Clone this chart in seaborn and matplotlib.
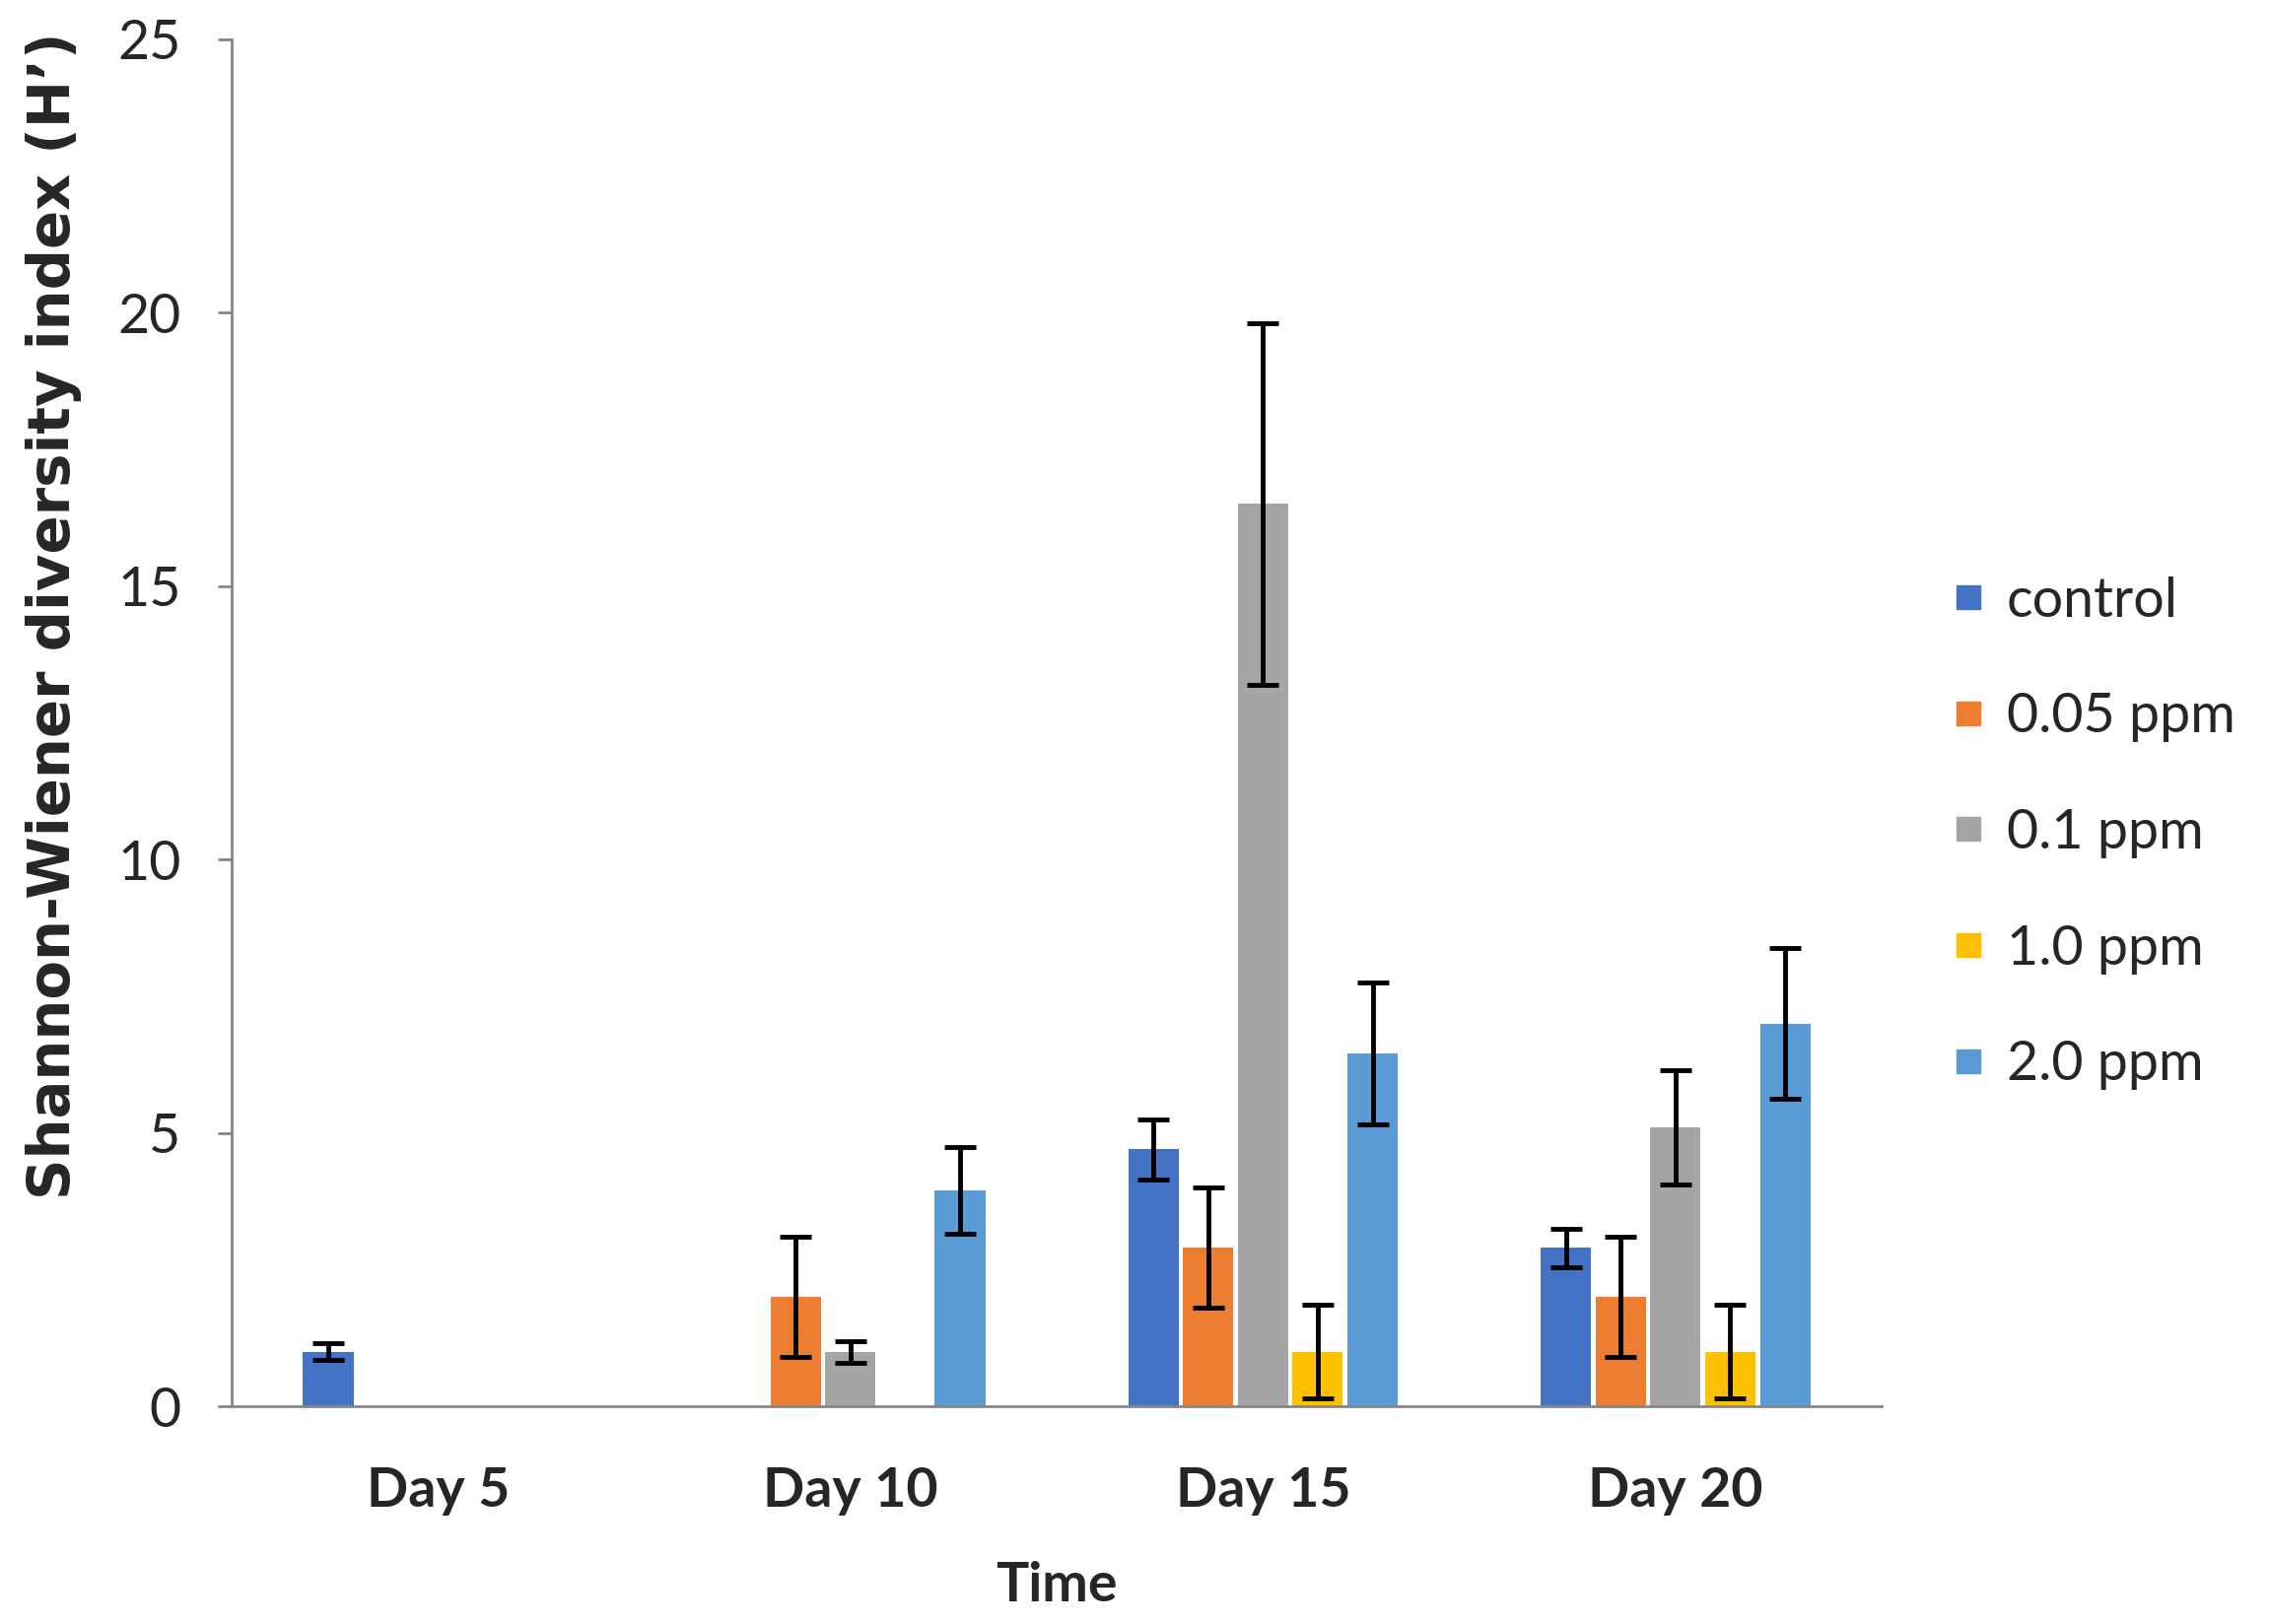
import numpy as np
import pandas as pd
import seaborn as sns
import matplotlib.pyplot as plt
from matplotlib.lines import Line2D
from matplotlib.container import BarContainer

# values (nan = no bar)
days = ["Day 5", "Day 10", "Day 15", "Day 20"]
treatments = ["control", "0.05 ppm", "0.1 ppm", "1.0 ppm", "2.0 ppm"]
colors = ["#4472C4", "#ED7D31", "#A5A5A5", "#FFC000", "#5B9BD5"]

control = [1.0, np.nan, 4.7, 2.9]
ppm_005 = [np.nan, 2.0, 2.9, 2.0]
ppm_01 = [np.nan, 1.0, 16.5, 5.1]
ppm_10 = [np.nan, np.nan, 1.0, 1.0]
ppm_20 = [np.nan, 3.95, 6.45, 7.0]

err_control = [0.15, np.nan, 0.55, 0.35]
err_005 = [np.nan, 1.1, 1.1, 1.1]
err_01 = [np.nan, 0.2, 3.3, 1.05]
err_10 = [np.nan, np.nan, 0.85, 0.85]
err_20 = [np.nan, 0.8, 1.3, 1.38]

values = [control, ppm_005, ppm_01, ppm_10, ppm_20]
errors = [err_control, err_005, err_01, err_10, err_20]

rows = []
for t, vals in zip(treatments, values):
    for d, v in zip(days, vals):
        rows.append({"day": d, "treatment": t, "value": v})
df = pd.DataFrame(rows)

sns.set_style("ticks")
plt.rcParams['font.family'] = ['Lato', 'DejaVu Sans']

fig = plt.figure(figsize=(23.03, 16.48), dpi=100)
ax = fig.add_axes([0.102, 0.134, 0.727, 0.842])

sns.barplot(data=df, x="day", y="value", hue="treatment", order=days,
            hue_order=treatments, palette=colors, saturation=1,
            width=0.664, gap=0.08, errorbar=None, linewidth=0,
            legend=False, ax=ax)

# error bars on top of each drawn bar
bar_conts = [c for c in ax.containers if isinstance(c, BarContainer)]
for i, cont in enumerate(bar_conts):
    for patch in cont.patches:
        if patch is None:
            continue
        h = patch.get_height()
        if np.isnan(h):
            continue
        xc = patch.get_x() + patch.get_width() / 2
        e = errors[i][int(round(xc))]
        if np.isnan(e):
            continue
        ax.errorbar(xc, h, yerr=e, fmt='none', ecolor='black',
                    elinewidth=3.5, capsize=11.5, capthick=3.5, zorder=5)

ax.set_ylim(0, 25)
ax.set_yticks([0, 5, 10, 15, 20, 25])
ax.set_xlim(-0.5, 3.5)

sns.despine(ax=ax)
for s in ["left", "bottom"]:
    ax.spines[s].set_color("#868686")
    ax.spines[s].set_linewidth(2)

ax.tick_params(axis='y', length=10, width=2, color="#868686", pad=27,
               labelsize=40)
ax.tick_params(axis='x', length=0, pad=44, labelsize=40)
for lab in ax.get_xticklabels():
    lab.set_fontweight('bold')

ax.set_xlabel("Time", fontsize=40, fontweight='bold')
ax.xaxis.set_label_coords(0.5, -0.113)
ax.set_ylabel("Shannon-Wiener diversity index (H\u2019)", fontsize=41.5,
              fontweight='bold', family=['DejaVu Sans'])
ax.yaxis.set_label_coords(-0.091, 0.578)

handles = [Line2D([], [], marker='s', linestyle='none', markersize=17,
                  markerfacecolor=c, markeredgecolor=c) for c in colors]
fig.legend(handles, treatments, loc='center left',
           bbox_to_anchor=(0.861, 0.487), frameon=False, fontsize=40,
           labelspacing=1.2, handlelength=0.5, handletextpad=0.45,
           borderpad=0, borderaxespad=0)

fig.savefig("out.png", dpi=100)
